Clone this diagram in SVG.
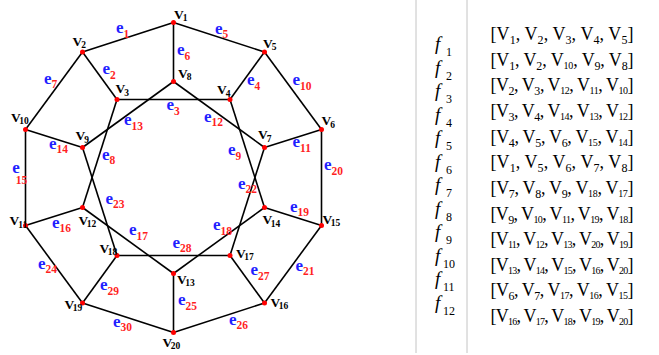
<svg xmlns="http://www.w3.org/2000/svg" width="659" height="355" viewBox="0 0 659 355">
<style>
.edge{stroke:#000;stroke-width:1.6;fill:none}
.dot{fill:#f00}
.vl{font-family:"Liberation Serif",serif;font-weight:bold;font-size:13.5px;fill:#000}
.vs{font-size:9.5px}
.el{font-family:"Liberation Serif",serif;font-weight:bold;font-size:17px;fill:#1f1fff}
.es{font-size:11.5px;fill:#ff1f1f}
.fl{font-family:"Liberation Serif",serif;font-style:italic;font-size:19px;fill:#000}
.fs{font-family:"Liberation Serif",serif;font-size:12px;fill:#000}
.row{font-family:"Liberation Serif",serif;font-size:18px;fill:#000}
.r1{font-size:12px}
.r2{font-size:10px}
.sep{stroke:#c4c4c4;stroke-width:1}
</style>
<rect width="659" height="355" fill="#fff"/>
<g id="connectors">
<line class="edge" x1="173.5" y1="22.5" x2="82.5" y2="52"/>
<line class="edge" x1="82.5" y1="52" x2="117" y2="99.5"/>
<line class="edge" x1="117" y1="99.5" x2="230" y2="99.5"/>
<line class="edge" x1="230" y1="99.5" x2="264.5" y2="52"/>
<line class="edge" x1="173.5" y1="22.5" x2="264.5" y2="52"/>
<line class="edge" x1="173.5" y1="22.5" x2="173.5" y2="81.5"/>
<line class="edge" x1="82.5" y1="52" x2="25.5" y2="129.5"/>
<line class="edge" x1="117" y1="99.5" x2="82.5" y2="207.5"/>
<line class="edge" x1="230" y1="99.5" x2="264.5" y2="207.5"/>
<line class="edge" x1="264.5" y1="52" x2="321.5" y2="129.5"/>
<line class="edge" x1="321.5" y1="129.5" x2="264.5" y2="147.5"/>
<line class="edge" x1="173.5" y1="81.5" x2="264.5" y2="147.5"/>
<line class="edge" x1="173.5" y1="81.5" x2="82.5" y2="147.5"/>
<line class="edge" x1="25.5" y1="129.5" x2="82.5" y2="147.5"/>
<line class="edge" x1="25.5" y1="129.5" x2="25.5" y2="225.5"/>
<line class="edge" x1="25.5" y1="225.5" x2="82.5" y2="207.5"/>
<line class="edge" x1="82.5" y1="207.5" x2="173.5" y2="273.5"/>
<line class="edge" x1="264.5" y1="207.5" x2="173.5" y2="273.5"/>
<line class="edge" x1="264.5" y1="207.5" x2="321.5" y2="225.5"/>
<line class="edge" x1="321.5" y1="129.5" x2="321.5" y2="225.5"/>
<line class="edge" x1="321.5" y1="225.5" x2="264.5" y2="303"/>
<line class="edge" x1="264.5" y1="147.5" x2="230" y2="255.5"/>
<line class="edge" x1="82.5" y1="147.5" x2="117" y2="255.5"/>
<line class="edge" x1="25.5" y1="225.5" x2="82.5" y2="303"/>
<line class="edge" x1="173.5" y1="273.5" x2="173.5" y2="332.5"/>
<line class="edge" x1="173.5" y1="332.5" x2="264.5" y2="303"/>
<line class="edge" x1="230" y1="255.5" x2="264.5" y2="303"/>
<line class="edge" x1="117" y1="255.5" x2="230" y2="255.5"/>
<line class="edge" x1="117" y1="255.5" x2="82.5" y2="303"/>
<line class="edge" x1="82.5" y1="303" x2="173.5" y2="332.5"/>
</g>
<g id="edge-labels">
<text class="el" x="116" y="33">e<tspan class="es" dy="4.5">1</tspan></text>
<text class="el" x="102.5" y="74">e<tspan class="es" dy="4.5">2</tspan></text>
<text class="el" x="166.5" y="110">e<tspan class="es" dy="4.5">3</tspan></text>
<text class="el" x="247" y="85">e<tspan class="es" dy="4.5">4</tspan></text>
<text class="el" x="215" y="33.5">e<tspan class="es" dy="4.5">5</tspan></text>
<text class="el" x="177" y="55">e<tspan class="es" dy="4.5">6</tspan></text>
<text class="el" x="44" y="83.5">e<tspan class="es" dy="4.5">7</tspan></text>
<text class="el" x="102" y="159.5">e<tspan class="es" dy="4.5">8</tspan></text>
<text class="el" x="228" y="155">e<tspan class="es" dy="4.5">9</tspan></text>
<text class="el" x="292.5" y="85">e<tspan class="es" dy="4.5">10</tspan></text>
<text class="el" x="292.5" y="147">e<tspan class="es" dy="4.5">11</tspan></text>
<text class="el" x="204" y="121.5">e<tspan class="es" dy="4.5">12</tspan></text>
<text class="el" x="124" y="125">e<tspan class="es" dy="4.5">13</tspan></text>
<text class="el" x="49" y="148.5">e<tspan class="es" dy="4.5">14</tspan></text>
<text class="el" x="12.3" y="173">e</text>
<text class="el es" x="15.7" y="184">15</text>
<text class="el" x="52" y="227.5">e<tspan class="es" dy="4.5">16</tspan></text>
<text class="el" x="129" y="235">e<tspan class="es" dy="4.5">17</tspan></text>
<text class="el" x="213" y="230">e<tspan class="es" dy="4.5">18</tspan></text>
<text class="el" x="290" y="211.5">e<tspan class="es" dy="4.5">19</tspan></text>
<text class="el" x="324" y="170">e<tspan class="es" dy="4.5">20</tspan></text>
<text class="el" x="295.5" y="270.5">e<tspan class="es" dy="4.5">21</tspan></text>
<text class="el" x="238" y="188.5">e<tspan class="es" dy="4.5">22</tspan></text>
<text class="el" x="105.5" y="203.5">e<tspan class="es" dy="4.5">23</tspan></text>
<text class="el" x="38" y="268.5">e<tspan class="es" dy="4.5">24</tspan></text>
<text class="el" x="178" y="305">e<tspan class="es" dy="4.5">25</tspan></text>
<text class="el" x="229" y="324.5">e<tspan class="es" dy="4.5">26</tspan></text>
<text class="el" x="250.5" y="275">e<tspan class="es" dy="4.5">27</tspan></text>
<text class="el" x="172.5" y="247.5">e<tspan class="es" dy="4.5">28</tspan></text>
<text class="el" x="100" y="290">e<tspan class="es" dy="4.5">29</tspan></text>
<text class="el" x="113" y="326.5">e<tspan class="es" dy="4.5">30</tspan></text>
</g>
<g id="v1"><circle class="dot" cx="173.5" cy="22.5" r="2.5"/><text class="vl" x="174" y="18.5">V<tspan class="vs" dx="-1" dy="2.5">1</tspan></text></g>
<g id="v2"><circle class="dot" cx="82.5" cy="52" r="2.5"/><text class="vl" x="72.5" y="45.5">V<tspan class="vs" dx="-1" dy="2.5">2</tspan></text></g>
<g id="v3"><circle class="dot" cx="117" cy="99.5" r="2.5"/><text class="vl" x="115.5" y="93">V<tspan class="vs" dx="-1" dy="2.5">3</tspan></text></g>
<g id="v4"><circle class="dot" cx="230" cy="99.5" r="2.5"/><text class="vl" x="217" y="94">V<tspan class="vs" dx="-1" dy="2.5">4</tspan></text></g>
<g id="v5"><circle class="dot" cx="264.5" cy="52" r="2.5"/><text class="vl" x="263" y="47.5">V<tspan class="vs" dx="-1" dy="2.5">5</tspan></text></g>
<g id="v6"><circle class="dot" cx="321.5" cy="129.5" r="2.5"/><text class="vl" x="321.5" y="125">V<tspan class="vs" dx="-1" dy="2.5">6</tspan></text></g>
<g id="v7"><circle class="dot" cx="264.5" cy="147.5" r="2.5"/><text class="vl" x="258" y="139">V<tspan class="vs" dx="-1" dy="2.5">7</tspan></text></g>
<g id="v8"><circle class="dot" cx="173.5" cy="81.5" r="2.5"/><text class="vl" x="178" y="77.5">V<tspan class="vs" dx="-1" dy="2.5">8</tspan></text></g>
<g id="v9"><circle class="dot" cx="82.5" cy="147.5" r="2.5"/><text class="vl" x="75.5" y="140">V<tspan class="vs" dx="-1" dy="2.5">9</tspan></text></g>
<g id="v10"><circle class="dot" cx="25.5" cy="129.5" r="2.5"/><text class="vl" x="11" y="121.5">V<tspan class="vs" dx="-1.5" dy="2.5">10</tspan></text></g>
<g id="v11"><circle class="dot" cx="25.5" cy="225.5" r="2.5"/><text class="vl" x="9.5" y="225">V<tspan class="vs" dx="-1" dy="3">11</tspan></text></g>
<g id="v12"><circle class="dot" cx="82.5" cy="207.5" r="2.5"/><text class="vl" x="78.5" y="224.5">V<tspan class="vs" dx="-1.5" dy="2.5">12</tspan></text></g>
<g id="v13"><circle class="dot" cx="173.5" cy="273.5" r="2.5"/><text class="vl" x="177" y="283.5">V<tspan class="vs" dx="-1.5" dy="2.5">13</tspan></text></g>
<g id="v14"><circle class="dot" cx="264.5" cy="207.5" r="2.5"/><text class="vl" x="262.5" y="224">V<tspan class="vs" dx="-1.5" dy="2.5">14</tspan></text></g>
<g id="v15"><circle class="dot" cx="321.5" cy="225.5" r="2.5"/><text class="vl" x="322.5" y="223.5">V<tspan class="vs" dx="-1.5" dy="2.5">15</tspan></text></g>
<g id="v16"><circle class="dot" cx="264.5" cy="303" r="2.5"/><text class="vl" x="270.5" y="306.5">V<tspan class="vs" dx="-1.5" dy="2.5">16</tspan></text></g>
<g id="v17"><circle class="dot" cx="230" cy="255.5" r="2.5"/><text class="vl" x="236" y="257.5">V<tspan class="vs" dx="-1.5" dy="2.5">17</tspan></text></g>
<g id="v18"><circle class="dot" cx="117" cy="255.5" r="2.5"/><text class="vl" x="99.5" y="252.5">V<tspan class="vs" dx="-1.5" dy="2.5">18</tspan></text></g>
<g id="v19"><circle class="dot" cx="82.5" cy="303" r="2.5"/><text class="vl" x="64.5" y="308.5">V<tspan class="vs" dx="-1.5" dy="2.5">19</tspan></text></g>
<g id="v20"><circle class="dot" cx="173.5" cy="332.5" r="2.5"/><text class="vl" x="162.5" y="346.5">V<tspan class="vs" dx="-1.5" dy="2.5">20</tspan></text></g>
<g id="table">
<line class="sep" x1="416" y1="0" x2="416" y2="353"/>
<line class="sep" x1="467" y1="0" x2="467" y2="353"/>
<text class="fl" x="435" y="50">f</text><text class="fs" x="446" y="56">1</text>
<text class="fl" x="435" y="73.5">f</text><text class="fs" x="446" y="79.5">2</text>
<text class="fl" x="435" y="97">f</text><text class="fs" x="446" y="103">3</text>
<text class="fl" x="435" y="120.5">f</text><text class="fs" x="446" y="126.5">4</text>
<text class="fl" x="435" y="144">f</text><text class="fs" x="446" y="150">5</text>
<text class="fl" x="435" y="167.5">f</text><text class="fs" x="446" y="173.5">6</text>
<text class="fl" x="435" y="191">f</text><text class="fs" x="446" y="197">7</text>
<text class="fl" x="435" y="214.5">f</text><text class="fs" x="446" y="220.5">8</text>
<text class="fl" x="435" y="238">f</text><text class="fs" x="446" y="244">9</text>
<text class="fl" x="435" y="261.5">f</text><text class="fs" x="443" y="267.5">10</text>
<text class="fl" x="435" y="285">f</text><text class="fs" x="443" y="291">11</text>
<text class="fl" x="435" y="308.5">f</text><text class="fs" x="443" y="314.5">12</text>
<text class="row" x="490.5" y="40" textLength="143" lengthAdjust="spacing">[V<tspan class="r1" dy="4">1</tspan><tspan dy="-4">, V</tspan><tspan class="r1" dy="4">2</tspan><tspan dy="-4">, V</tspan><tspan class="r1" dy="4">3</tspan><tspan dy="-4">, V</tspan><tspan class="r1" dy="4">4</tspan><tspan dy="-4">, V</tspan><tspan class="r1" dy="4">5</tspan><tspan dy="-4">]</tspan></text>
<text class="row" x="490.5" y="65.6" textLength="143" lengthAdjust="spacing">[V<tspan class="r1" dy="4">1</tspan><tspan dy="-4">, V</tspan><tspan class="r1" dy="4">2</tspan><tspan dy="-4">, V</tspan><tspan class="r2" dy="3">10</tspan><tspan dy="-3">, V</tspan><tspan class="r1" dy="4">9</tspan><tspan dy="-4">, V</tspan><tspan class="r1" dy="4">8</tspan><tspan dy="-4">]</tspan></text>
<text class="row" x="490.5" y="91.3" textLength="143" lengthAdjust="spacing">[V<tspan class="r1" dy="4">2</tspan><tspan dy="-4">, V</tspan><tspan class="r1" dy="4">3</tspan><tspan dy="-4">, V</tspan><tspan class="r2" dy="3">12</tspan><tspan dy="-3">, V</tspan><tspan class="r2" dy="3">11</tspan><tspan dy="-3">, V</tspan><tspan class="r2" dy="3">10</tspan><tspan dy="-3">]</tspan></text>
<text class="row" x="490.5" y="116.9" textLength="143" lengthAdjust="spacing">[V<tspan class="r1" dy="4">3</tspan><tspan dy="-4">, V</tspan><tspan class="r1" dy="4">4</tspan><tspan dy="-4">, V</tspan><tspan class="r2" dy="3">14</tspan><tspan dy="-3">, V</tspan><tspan class="r2" dy="3">13</tspan><tspan dy="-3">, V</tspan><tspan class="r2" dy="3">12</tspan><tspan dy="-3">]</tspan></text>
<text class="row" x="490.5" y="142.6" textLength="143" lengthAdjust="spacing">[V<tspan class="r1" dy="4">4</tspan><tspan dy="-4">, V</tspan><tspan class="r1" dy="4">5</tspan><tspan dy="-4">, V</tspan><tspan class="r1" dy="4">6</tspan><tspan dy="-4">, V</tspan><tspan class="r2" dy="3">15</tspan><tspan dy="-3">, V</tspan><tspan class="r2" dy="3">14</tspan><tspan dy="-3">]</tspan></text>
<text class="row" x="490.5" y="168.2" textLength="143" lengthAdjust="spacing">[V<tspan class="r1" dy="4">1</tspan><tspan dy="-4">, V</tspan><tspan class="r1" dy="4">5</tspan><tspan dy="-4">, V</tspan><tspan class="r1" dy="4">6</tspan><tspan dy="-4">, V</tspan><tspan class="r1" dy="4">7</tspan><tspan dy="-4">, V</tspan><tspan class="r1" dy="4">8</tspan><tspan dy="-4">]</tspan></text>
<text class="row" x="490.5" y="193.8" textLength="143" lengthAdjust="spacing">[V<tspan class="r1" dy="4">7</tspan><tspan dy="-4">, V</tspan><tspan class="r1" dy="4">8</tspan><tspan dy="-4">, V</tspan><tspan class="r1" dy="4">9</tspan><tspan dy="-4">, V</tspan><tspan class="r2" dy="3">18</tspan><tspan dy="-3">, V</tspan><tspan class="r2" dy="3">17</tspan><tspan dy="-3">]</tspan></text>
<text class="row" x="490.5" y="219.5" textLength="143" lengthAdjust="spacing">[V<tspan class="r1" dy="4">9</tspan><tspan dy="-4">, V</tspan><tspan class="r2" dy="3">10</tspan><tspan dy="-3">, V</tspan><tspan class="r2" dy="3">11</tspan><tspan dy="-3">, V</tspan><tspan class="r2" dy="3">19</tspan><tspan dy="-3">, V</tspan><tspan class="r2" dy="3">18</tspan><tspan dy="-3">]</tspan></text>
<text class="row" x="490.5" y="245.1" textLength="143" lengthAdjust="spacing">[V<tspan class="r2" dy="3">11</tspan><tspan dy="-3">, V</tspan><tspan class="r2" dy="3">12</tspan><tspan dy="-3">, V</tspan><tspan class="r2" dy="3">13</tspan><tspan dy="-3">, V</tspan><tspan class="r2" dy="3">20</tspan><tspan dy="-3">, V</tspan><tspan class="r2" dy="3">19</tspan><tspan dy="-3">]</tspan></text>
<text class="row" x="490.5" y="270.8" textLength="143" lengthAdjust="spacing">[V<tspan class="r2" dy="3">13</tspan><tspan dy="-3">, V</tspan><tspan class="r2" dy="3">14</tspan><tspan dy="-3">, V</tspan><tspan class="r2" dy="3">15</tspan><tspan dy="-3">, V</tspan><tspan class="r2" dy="3">16</tspan><tspan dy="-3">, V</tspan><tspan class="r2" dy="3">20</tspan><tspan dy="-3">]</tspan></text>
<text class="row" x="490.5" y="296.4" textLength="143" lengthAdjust="spacing">[V<tspan class="r1" dy="4">6</tspan><tspan dy="-4">, V</tspan><tspan class="r1" dy="4">7</tspan><tspan dy="-4">, V</tspan><tspan class="r2" dy="3">17</tspan><tspan dy="-3">, V</tspan><tspan class="r2" dy="3">16</tspan><tspan dy="-3">, V</tspan><tspan class="r2" dy="3">15</tspan><tspan dy="-3">]</tspan></text>
<text class="row" x="490.5" y="322" textLength="143" lengthAdjust="spacing">[V<tspan class="r2" dy="3">16</tspan><tspan dy="-3">, V</tspan><tspan class="r2" dy="3">17</tspan><tspan dy="-3">, V</tspan><tspan class="r2" dy="3">18</tspan><tspan dy="-3">, V</tspan><tspan class="r2" dy="3">19</tspan><tspan dy="-3">, V</tspan><tspan class="r2" dy="3">20</tspan><tspan dy="-3">]</tspan></text>
</g>
</svg>
